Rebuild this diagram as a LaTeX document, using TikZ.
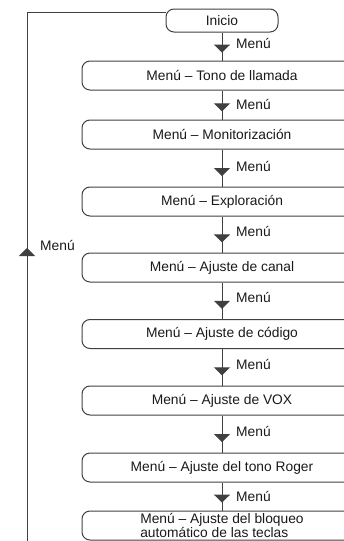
\documentclass[tikz,border=0pt]{standalone}
\usepackage{fontspec}
\setmainfont{Liberation Sans}
\usetikzlibrary{arrows.meta,decorations.markings}
\begin{document}
\begin{tikzpicture}[x=1pt,y=-1pt,
  every node/.style={font=\fontsize{13.8}{14}\selectfont, text=black!90},
  box/.style={draw=black!75, line width=1pt, rounded corners=8pt, minimum width=280pt, minimum height=29pt, inner sep=0pt},
  startbox/.style={box, minimum width=112pt, minimum height=23pt},
  flow/.style={draw=black!75, line width=1pt, postaction={decorate},
    decoration={markings, mark=at position 0.72 with {\arrow{Triangle[width=16pt,length=8pt]}}}},
  loopflow/.style={draw=black!75, line width=1pt, postaction={decorate},
    decoration={markings, mark=at position 297pt with {\arrow{Triangle[width=16pt,length=8pt]}}}},
  lab/.style={anchor=west, inner sep=0pt}]
\clip (0,0) rectangle (344,541);
\useasboundingbox (0,0) rectangle (344,541);

\node[startbox] (b0) at (222,20.5) {Inicio};
\node[box] (b1) at (222,75.5) {Menú – Tono de llamada};
\node[box] (b2) at (222,134.5) {Menú – Monitorización};
\node[box] (b3) at (222,201.5) {Menú – Exploración};
\node[box] (b4) at (222,267.5) {Menú – Ajuste de canal};
\node[box] (b5) at (222,334) {Menú – Ajuste de código};
\node[box] (b6) at (222,400.5) {Menú – Ajuste de VOX};
\node[box] (b7) at (222,467.5) {Menú – Ajuste del tono Roger};
\node[box, align=left] (b8) at (222,525.5) {Menú – Ajuste del bloqueo\\automático de las teclas};

\draw[flow] (b0) -- (b1);
\draw[flow] (b1) -- (b2);
\draw[flow] (b2) -- (b3);
\draw[flow] (b3) -- (b4);
\draw[flow] (b4) -- (b5);
\draw[flow] (b5) -- (b6);
\draw[flow] (b6) -- (b7);
\draw[flow] (b7) -- (b8);

\node[lab] (m1) at (236,43) {Menú};
\node[lab] (m2) at (236,104) {Menú};
\node[lab] (m3) at (236,166) {Menú};
\node[lab] (m4) at (236,231) {Menú};
\node[lab] (m5) at (236,297) {Menú};
\node[lab] (m6) at (236,364) {Menú};
\node[lab] (m7) at (236,431) {Menú};
\node[lab] (m8) at (236,496) {Menú};

\coordinate (lb) at (27,545);
\draw[loopflow] (lb) |- ([yshift=-4pt]b0.north west);
\node[lab] (ml) at (40,245) {Menú};
\end{tikzpicture}
\end{document}
